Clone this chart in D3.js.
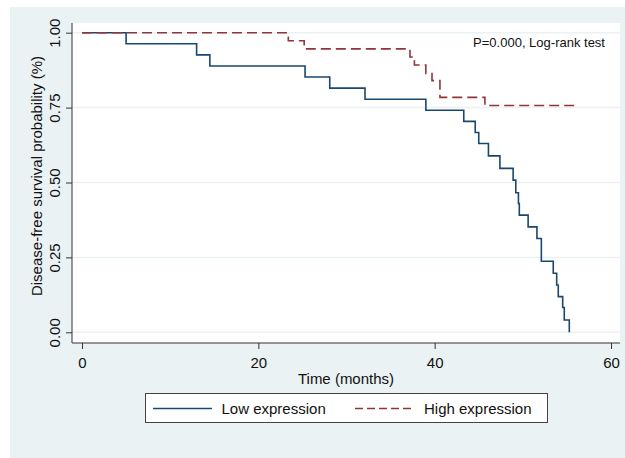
<!DOCTYPE html>
<html>
<head>
<meta charset="utf-8">
<script src="https://cdn.jsdelivr.net/npm/d3@7"></script>
<style>
  html, body { margin: 0; padding: 0; background: #ffffff; }
  svg { display: block; font-family: "Liberation Sans", Arial, sans-serif; }
</style>
</head>
<body>
<div class="chart"></div>
<script>
// Kaplan-Meier steps
var lowTime = [0, 5.0, 13.0, 14.5, 25.3, 28.1, 32.1, 39.0, 43.3, 44.6, 45.0, 46.1, 47.4, 48.9, 49.2, 49.5, 49.6, 50.6, 51.6, 52.1, 53.45, 53.84, 54.02, 54.52, 54.70, 55.27];
var lowSurv = [1, 0.963, 0.926, 0.889, 0.852, 0.815, 0.778, 0.741, 0.704, 0.667, 0.630, 0.589, 0.547, 0.508, 0.466, 0.430, 0.391, 0.352, 0.313, 0.237, 0.197, 0.158, 0.119, 0.083, 0.041, 0];

var highTime = [0, 23.4, 25.2, 37.2, 37.7, 39.0, 39.7, 40.6, 45.7, 55.9];
var highSurv = [1, 0.973, 0.946, 0.919, 0.892, 0.864, 0.840, 0.784, 0.757, 0.757];

var xTicks = [0, 20, 40, 60];
var yTicks = [0, 0.25, 0.5, 0.75, 1];
var seriesNames = ["Low expression", "High expression"];
var pText = "P=0.000, Log-rank test";

function init() {
  var w = 625;
  var h = 458;
  var plotLeft = 72, plotRight = 620, plotTop = 23, plotBottom = 343;

  var bgColor = "#eaf2f3";
  var lowColor = "#1a476f";
  var highColor = "#90353b";

  var svg = d3.select(".chart")
    .append("svg")
    .attr("width", w)
    .attr("height", h);

  // graph region
  svg.append("rect")
    .attr("x", 10)
    .attr("y", 7)
    .attr("width", w - 10)
    .attr("height", h - 7)
    .attr("fill", bgColor);

  // plot region
  svg.append("rect")
    .attr("x", plotLeft)
    .attr("y", plotTop)
    .attr("width", plotRight - plotLeft)
    .attr("height", plotBottom - plotTop)
    .attr("fill", "#ffffff");

  var xScale = d3.scaleLinear()
    .domain([0, 60])
    .range([82, 611]);

  var yScale = d3.scaleLinear()
    .domain([0, 1])
    .range([332.3, 32.7]);

  // gridlines
  svg.append("g")
    .selectAll("line")
    .data(yTicks)
    .enter()
    .append("line")
    .attr("x1", plotLeft)
    .attr("x2", plotRight)
    .attr("y1", function(d) { return yScale(d); })
    .attr("y2", function(d) { return yScale(d); })
    .attr("stroke", bgColor)
    .attr("stroke-width", 1.5);

  // y axis
  var yAxis = svg.append("g")
    .attr("transform", "translate(" + plotLeft + ",0)")
    .call(d3.axisLeft(yScale)
      .tickValues(yTicks)
      .tickSize(6)
      .tickFormat(d3.format(".2f")));
  yAxis.select(".domain").remove();
  yAxis.selectAll(".tick line").attr("stroke", "#333");
  yAxis.selectAll(".tick text")
    .attr("x", 0)
    .attr("dy", 0)
    .attr("transform", "translate(-12,0) rotate(-90)")
    .attr("text-anchor", "middle")
    .style("font-size", "15px")
    .style("font-family", "Liberation Sans, Arial, sans-serif")
    .attr("fill", "#111");

  svg.append("line")
    .attr("x1", plotLeft).attr("x2", plotLeft)
    .attr("y1", plotTop).attr("y2", plotBottom)
    .attr("stroke", "#333")
    .attr("stroke-width", 1);

  // x axis
  var xAxis = svg.append("g")
    .attr("transform", "translate(0," + plotBottom + ")")
    .call(d3.axisBottom(xScale)
      .tickValues(xTicks)
      .tickSize(6)
      .tickFormat(d3.format("d")));
  xAxis.select(".domain").remove();
  xAxis.selectAll(".tick line").attr("stroke", "#333");
  xAxis.selectAll(".tick text")
    .attr("y", 25)
    .attr("dy", 0)
    .style("font-size", "15px")
    .style("font-family", "Liberation Sans, Arial, sans-serif")
    .attr("fill", "#111");

  svg.append("line")
    .attr("x1", plotLeft).attr("x2", plotRight)
    .attr("y1", plotBottom).attr("y2", plotBottom)
    .attr("stroke", "#333")
    .attr("stroke-width", 1);

  // axis titles
  svg.append("text")
    .attr("x", (plotLeft + plotRight) / 2)
    .attr("y", 384)
    .attr("text-anchor", "middle")
    .style("font-size", "15px")
    .attr("fill", "#111")
    .text("Time (months)");

  svg.append("text")
    .attr("transform", "translate(42,176) rotate(-90)")
    .attr("text-anchor", "middle")
    .style("font-size", "15px")
    .attr("fill", "#111")
    .text("Disease-free survival probability (%)");

  // survival curves
  var line = d3.line()
    .x(function(d) { return xScale(d[0]); })
    .y(function(d) { return yScale(d[1]); })
    .curve(d3.curveStepAfter);

  var lowData = lowTime.map(function(t, i) { return [t, lowSurv[i]]; });
  var highData = highTime.map(function(t, i) { return [t, highSurv[i]]; });

  svg.append("path")
    .datum(lowData)
    .attr("d", line)
    .attr("fill", "none")
    .attr("stroke", lowColor)
    .attr("stroke-width", 1.6);

  svg.append("path")
    .datum(highData)
    .attr("d", line)
    .attr("fill", "none")
    .attr("stroke", highColor)
    .attr("stroke-width", 1.6)
    .attr("stroke-dasharray", "10,5");

  // p-value note
  svg.append("text")
    .attr("x", 605)
    .attr("y", 47)
    .attr("text-anchor", "end")
    .style("font-size", "13px")
    .attr("fill", "#111")
    .text(pText);

  // legend
  var legend = svg.append("g");
  legend.append("rect")
    .attr("x", 145.5)
    .attr("y", 393.5)
    .attr("width", 402)
    .attr("height", 29)
    .attr("fill", "#ffffff")
    .attr("stroke", "#444")
    .attr("stroke-width", 1);

  var legendItems = [
    { name: seriesNames[0], color: lowColor, dash: null, x1: 153, x2: 212, tx: 221.5 },
    { name: seriesNames[1], color: highColor, dash: "8,4", x1: 355, x2: 415, tx: 424 }
  ];

  var item = legend.selectAll(".legend-item")
    .data(legendItems)
    .enter().append("g")
    .attr("class", "legend-item");

  item.append("line")
    .attr("x1", function(d) { return d.x1; })
    .attr("x2", function(d) { return d.x2; })
    .attr("y1", 408.5)
    .attr("y2", 408.5)
    .attr("stroke", function(d) { return d.color; })
    .attr("stroke-width", 1.5)
    .attr("stroke-dasharray", function(d) { return d.dash; });

  item.append("text")
    .attr("x", function(d) { return d.tx; })
    .attr("y", 414)
    .style("font-size", "15px")
    .attr("fill", "#111")
    .text(function(d) { return d.name; });
}

window.onload = init;
</script>
</body>
</html>
